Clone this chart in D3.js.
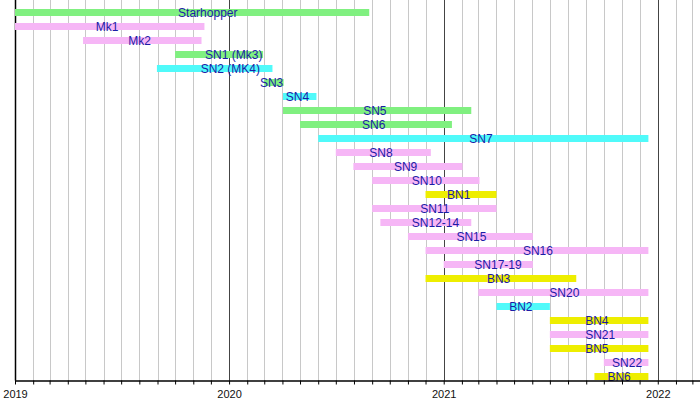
<!DOCTYPE html>
<html>
<head>
<meta charset="utf-8">
<script src="https://cdn.jsdelivr.net/npm/d3@7"></script>
<style>
  body { margin: 0; background: #fff; }
  svg { display: block; font-family: "Liberation Sans", Arial, Helvetica, sans-serif; }
</style>
</head>
<body>
<div id="chart"></div>
<script>
// Starship prototype timeline - Gantt style bars

const vehicles = ['Starhopper', 'Mk1', 'Mk2', 'SN1 (Mk3)', 'SN2 (MK4)', 'SN3', 'SN4', 'SN5', 'SN6', 'SN7',
    'SN8', 'SN9', 'SN10', 'BN1', 'SN11', 'SN12-14', 'SN15', 'SN16', 'SN17-19', 'BN3', 'SN20', 'BN2',
    'BN4', 'SN21', 'BN5', 'SN22', 'BN6'];

const kinds = ['hop', 'ship', 'ship', 'hop', 'test', 'hop', 'test', 'hop', 'hop', 'test',
    'ship', 'ship', 'ship', 'booster', 'ship', 'ship', 'ship', 'ship', 'ship', 'booster', 'ship', 'test',
    'booster', 'ship', 'booster', 'ship', 'booster'];

const starts = ['2019-01-01', '2019-01-01', '2019-04-27', '2019-10-01', '2019-08-31', '2020-03-01', '2020-04-02',
    '2020-04-02', '2020-05-01', '2020-06-01', '2020-07-01', '2020-07-31', '2020-09-01', '2020-12-01',
    '2020-09-01', '2020-09-15', '2020-11-01', '2020-12-01', '2021-01-01', '2020-12-01', '2021-03-01',
    '2021-04-01', '2021-07-01', '2021-07-01', '2021-07-01', '2021-10-01', '2021-09-15'];

const ends = ['2020-08-27', '2019-11-20', '2019-11-15', '2020-02-28', '2020-03-15', '2020-04-03', '2020-05-29',
    '2021-02-17', '2021-01-15', '2021-12-16', '2020-12-10', '2021-02-02', '2021-03-03', '2021-04-01',
    '2021-04-01', '2021-02-17', '2021-06-02', '2021-12-16', '2021-06-02', '2021-08-15', '2021-12-16',
    '2021-07-01', '2021-12-16', '2021-12-16', '2021-12-16', '2021-12-16', '2021-12-16'];

const axisStart = '2019-01-01';
const axisEnd = '2022-03-14';

const kindColors = { hop: '#80f080', ship: '#f6b6f6', test: '#50fafa', booster: '#eeee00' };

const parse = d3.utcParse('%Y-%m-%d');
const data = vehicles.map((name, i) => ({
    name: name,
    kind: kinds[i],
    start: parse(starts[i]),
    end: parse(ends[i])
}));

const W = 700, H = 400;
const left = 15, axisY = 380.5;

const svg = d3.select('#chart')
    .append('svg')
    .attr('width', W)
    .attr('height', H);

// Scales
const x = d3.scaleUtc()
    .domain([parse(axisStart), parse(axisEnd)])
    .range([left, W]);

const y = d3.scaleBand()
    .domain(vehicles)
    .range([5.5, 383.5])
    .paddingInner(0.5)
    .paddingOuter(0.25);

// Monthly grid, yearly lines darker
const months = x.ticks(d3.utcMonth.every(1));
svg.append('g')
    .selectAll('line')
    .data(months)
    .enter()
    .append('line')
    .attr('x1', d => Math.round(x(d)) + 0.5)
    .attr('x2', d => Math.round(x(d)) + 0.5)
    .attr('y1', 0)
    .attr('y2', axisY)
    .style('stroke', d => d.getUTCMonth() === 0 ? '#444' : '#c8c8c8')
    .style('stroke-width', 1);

// Left edge
svg.append('line')
    .attr('x1', left + 0.5)
    .attr('x2', left + 0.5)
    .attr('y1', 0)
    .attr('y2', axisY)
    .style('stroke', '#000')
    .style('stroke-width', 1.5);

// Bars
svg.append('g')
    .selectAll('rect')
    .data(data)
    .enter()
    .append('rect')
    .attr('x', d => x(d.start))
    .attr('y', d => y(d.name))
    .attr('width', d => x(d.end) - x(d.start))
    .attr('height', y.bandwidth())
    .style('fill', d => kindColors[d.kind]);

// Labels, started a little left of the bar middle
svg.append('g')
    .selectAll('text')
    .data(data)
    .enter()
    .append('text')
    .attr('x', d => (x(d.start) + x(d.end)) / 2 - 14)
    .attr('y', d => y(d.name) + y.bandwidth() / 2 + 4.2)
    .style('font-size', '12px')
    .style('fill', '#1c1ca6')
    .text(d => d.name);

// X axis
const xAxis = svg.append('g')
    .attr('transform', `translate(0,${axisY})`)
    .call(d3.axisBottom(x)
        .ticks(d3.utcMonth.every(1))
        .tickSize(4)
        .tickPadding(6)
        .tickFormat(d => d.getUTCMonth() === 0 ? d3.utcFormat('%Y')(d) : ''));

xAxis.select('.domain')
    .attr('d', `M${left},0.5H${W}`)
    .style('stroke', '#000')
    .style('stroke-width', 1.5);

xAxis.selectAll('.tick line')
    .style('stroke', '#000');

xAxis.selectAll('.tick text')
    .style('font-size', '11px')
    .style('font-family', '"Liberation Sans", Arial, sans-serif')
    .style('fill', '#111');
</script>
</body>
</html>
